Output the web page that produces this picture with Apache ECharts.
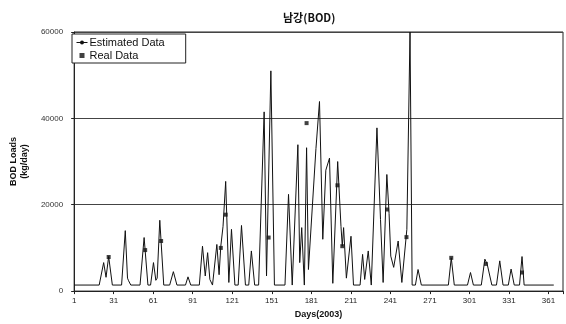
<!DOCTYPE html>
<html>
<head>
<meta charset="utf-8">
<script src="https://cdn.jsdelivr.net/npm/echarts@6/dist/echarts.min.js"></script>
<style>html,body{margin:0;padding:0;background:#fff}#c{width:566px;height:324px}</style>
</head>
<body>
<div id="c"></div>
<script>
// Estimated daily BOD load: [day, kg/day] at key points (peaks, dips, baseline)
const estDays = [1,20,23.4,25.2,27.2,30,37,39.8,41.5,42.3,44,51,54.1,57,59,61.2,63,64,66,69,73.5,76.3,79,85.5,87.4,89.5,96,98.4,100.5,102.3,104,106,107.5,109.3,111,112.3,114,116,118.4,120.4,123,125.5,128,131,133.5,135.5,138,141,145.2,147,150.3,153,161,163.7,166.5,170.8,172.2,173.7,175.7,177.4,178.8,184.5,187.2,189.7,192,194.8,197.3,201,203.5,204.5,205.5,207.6,211.1,213,218,219.9,221.5,224.2,226.5,228,230.8,233.5,235.5,238.3,240,241.3,243.5,246.9,249.7,253.5,255.9,257.5,260,262,264.5,285,287.2,289.5,299.5,301.8,304,310,312.7,314.5,316,318,321.5,324,326.5,330.5,332.6,335,339,340.9,342.5,365];
const estValues = [1400,1400,6600,3200,8000,1400,1400,14000,3000,2400,1400,1400,12400,1400,1400,6600,2500,3000,16400,1400,1400,4500,1400,1400,3300,1400,1400,10400,3500,8900,2700,1400,1400,10800,3800,10400,15000,25400,2000,14300,1400,1400,15200,1400,1400,9300,1400,1400,41500,3500,51000,1400,1400,22400,1400,33900,6600,14700,1400,33200,5000,33000,43900,12000,28000,30800,1800,30000,15000,10400,14700,3000,12700,1400,1400,8500,2700,9300,1400,1400,37800,16600,2000,27000,18000,8100,5500,11600,2000,14300,60000,1400,1400,5000,1400,1400,7700,1400,1400,4300,1400,1400,7400,6200,6000,1400,1400,7000,1400,1400,5100,1400,1400,8000,1400,1400];
// Measured data
const realDays = [27.2,54.9,67,112.3,116,148.6,177.4,200.8,204.5,238.5,253.2,287.2,313.5,340.9];
const realValues = [7900,9500,11600,10000,17700,12400,38900,24500,10400,18900,12500,7700,6300,4300];
const xTicks = [1,31,61,91,121,151,181,211,241,271,301,331,361];
const yTicks = [0,20000,40000,60000];

// axis runs in (day - 1) so that ticks at 1,31,... sit on multiples of 30
const est = estDays.map((d,i)=>[d-1, estValues[i]]);
const real = realDays.map((d,i)=>[d-1, realValues[i]]);
const FONT = "'Liberation Sans', Arial, sans-serif";

const chart = echarts.init(document.getElementById('c'), null, {renderer:'canvas'});
chart.setOption({
  animation:false,
  backgroundColor:'#fff',
  title:{text:'남강(BOD)', left:278, top:7,
    textStyle:{fontFamily:"'Noto Sans CJK KR', sans-serif", fontSize:11, fontWeight:'bold', color:'#111'}},
  legend:{left:72, top:34, orient:'vertical', itemGap:2, itemWidth:11, itemHeight:5,
    padding:[3,21,2,4], borderColor:'#222', borderWidth:1, backgroundColor:'#fff',
    lineStyle:{width:1},
    textStyle:{fontFamily:FONT, fontSize:11, color:'#111', padding:[0,0,0,-3]},
    data:[{name:'Estimated Data'},{name:'Real Data', icon:'path://M0,0L10,0L10,10L0,10Z'}]},
  grid:{left:71, right:3, top:32, bottom:32, show:true, borderColor:'#222', borderWidth:1},
  xAxis:{type:'value', min:0, max:371, interval:30,
    name:'Days(2003)', nameLocation:'middle', nameGap:17,
    nameTextStyle:{fontFamily:FONT, fontSize:9, fontWeight:'bold', color:'#111'},
    axisLine:{lineStyle:{color:'#222', width:1}},
    axisTick:{show:true, length:3, lineStyle:{color:'#222'}},
    axisLabel:{fontFamily:FONT, fontSize:8, color:'#222', margin:6,
      formatter:v=> xTicks.indexOf(v+1) >= 0 ? String(v+1) : ''},
    splitLine:{show:false}},
  yAxis:{type:'value', min:0, max:60000, interval:20000,
    name:'BOD Loads\n(kg/day)', nameLocation:'middle', nameGap:34, nameRotate:90,
    nameTextStyle:{fontFamily:FONT, fontSize:9, fontWeight:'bold', color:'#111', lineHeight:11},
    axisLine:{show:true, lineStyle:{color:'#222', width:1}},
    axisTick:{show:true, length:3, lineStyle:{color:'#222'}},
    axisLabel:{fontFamily:FONT, fontSize:8, color:'#333', margin:11,
      formatter:v=> yTicks.indexOf(v) >= 0 ? String(v) : ''},
    splitLine:{show:true, lineStyle:{color:'#444', width:1}}},
  series:[
    {name:'Estimated Data', type:'line', data:est, showSymbol:false, symbol:'none',
      lineStyle:{color:'#111', width:1}, itemStyle:{color:'#111'}, z:3},
    {name:'Real Data', type:'scatter', data:real, symbol:'rect', symbolSize:4,
      itemStyle:{color:'#111'}, z:4}
  ]
});
</script>
</body>
</html>
